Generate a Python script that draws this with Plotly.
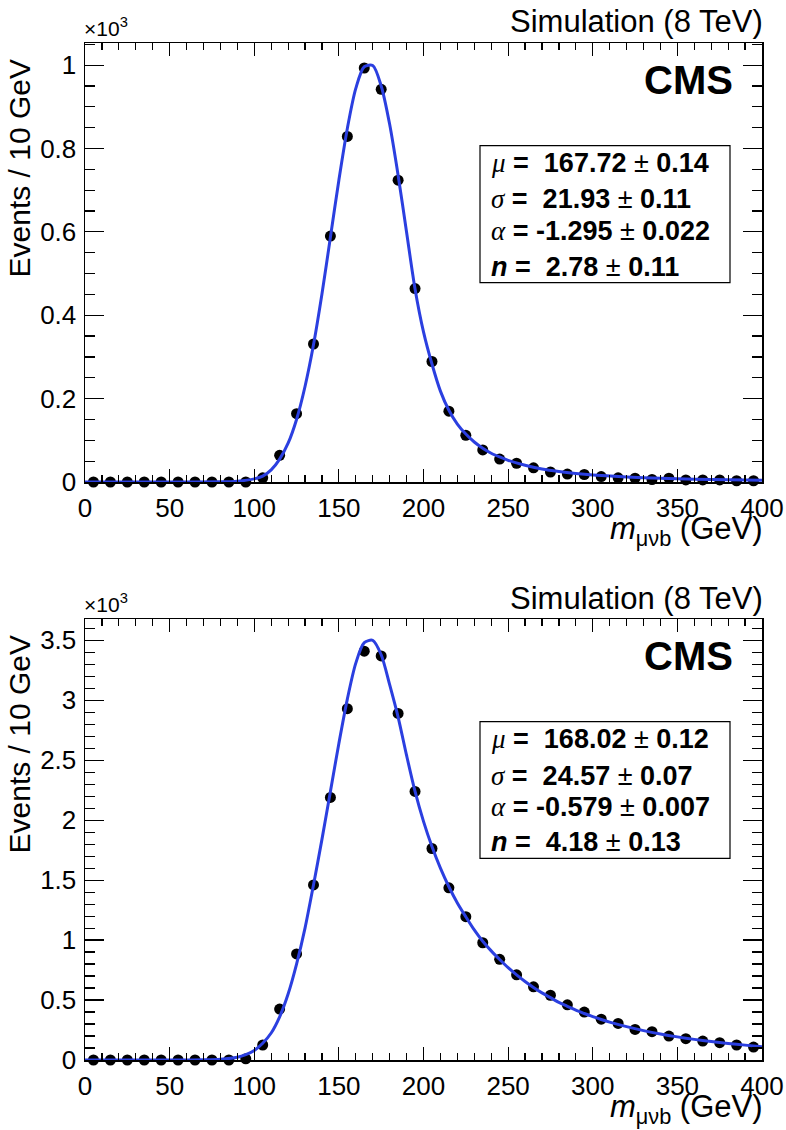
import plotly.graph_objects as go

# ---------------- data (values in units of 10^3 events) ----------------
bin_centers = [5, 15, 25, 35, 45, 55, 65, 75, 85, 95,
               105, 115, 125, 135, 145, 155, 165, 175, 185, 195,
               205, 215, 225, 235, 245, 255, 265, 275, 285, 295,
               305, 315, 325, 335, 345, 355, 365, 375, 385, 395]

top_counts = [0, 0, 0, 0, 0, 0, 0, 0, 0, 0,
              0.010, 0.064, 0.164, 0.331, 0.590, 0.829, 0.993, 0.942, 0.724, 0.464,
              0.289, 0.170, 0.112, 0.077, 0.055, 0.045, 0.034, 0.024, 0.019, 0.018,
              0.013, 0.010, 0.009, 0.006, 0.009, 0.005, 0.005, 0.005, 0.003, 0.003]

bottom_counts = [0, 0, 0, 0, 0, 0, 0, 0, 0, 0.010,
                 0.125, 0.425, 0.885, 1.46, 2.19, 2.93, 3.41, 3.37, 2.89, 2.24,
                 1.764, 1.436, 1.195, 0.978, 0.84, 0.71, 0.61, 0.54, 0.46, 0.40,
                 0.34, 0.305, 0.255, 0.236, 0.20, 0.178, 0.158, 0.144, 0.125, 0.108]

top_fit_x = [0, 40, 60, 80, 90, 100, 105, 110, 115, 120, 125, 130, 135, 140, 145,
             150, 155, 160, 165, 170, 175, 180, 185, 190, 195, 200, 205, 210, 215,
             220, 225, 230, 235, 240, 245, 250, 260, 270, 280, 290, 300, 320, 340,
             360, 380, 400]
top_fit_y = [0, 0, 0.00001, 0.0003, 0.002, 0.0075, 0.014, 0.029, 0.055, 0.093, 0.150,
             0.229, 0.329, 0.451, 0.587, 0.724, 0.848, 0.944, 0.996, 0.999, 0.950,
             0.858, 0.736, 0.599, 0.463, 0.360, 0.283, 0.218, 0.172, 0.139, 0.115,
             0.096, 0.081, 0.069, 0.060, 0.052, 0.040, 0.031, 0.025, 0.0205, 0.017,
             0.012, 0.0088, 0.0067, 0.0052, 0.0041]

bot_fit_x = [0, 40, 60, 70, 80, 90, 95, 100, 105, 110, 115, 120, 125, 130, 135, 140,
             145, 150, 155, 160, 165, 170, 175, 180, 185, 190, 195, 200, 205, 210,
             215, 220, 225, 230, 235, 240, 245, 250, 255, 260, 265, 270, 275, 280,
             285, 290, 295, 300, 305, 310, 320, 330, 340, 350, 360, 370, 380, 390, 400]
bot_fit_y = [0, 0, 0.0003, 0.0015, 0.006, 0.023, 0.045, 0.08, 0.14, 0.225, 0.36, 0.55,
             0.80, 1.10, 1.46, 1.84, 2.24, 2.64, 3.01, 3.31, 3.48, 3.50, 3.38, 3.13,
             2.86, 2.54, 2.24, 1.99, 1.78, 1.60, 1.445, 1.31, 1.195, 1.085, 0.99, 0.91,
             0.838, 0.77, 0.71, 0.655, 0.605, 0.56, 0.52, 0.48, 0.448, 0.415, 0.388,
             0.362, 0.338, 0.316, 0.278, 0.245, 0.217, 0.193, 0.172, 0.154, 0.138,
             0.124, 0.111]

top_params = [("μ", "167.72", "0.14"), ("σ", "21.93", "0.11"),
              ("α", "-1.295", "0.022"), ("n", "2.78", "0.11")]
bot_params = [("μ", "168.02", "0.12"), ("σ", "24.57", "0.07"),
              ("α", "-0.579", "0.007"), ("n", "4.18", "0.13")]

x_title = "<i>m</i><sub>μνb</sub> (GeV)"
y_title = "Events / 10 GeV"
energy_label = "Simulation (8 TeV)"
exp_label = "<b>CMS</b>"
scale_label = "×10<sup>3</sup>"

# ---------------- layout helpers ----------------
W, H = 786, 1130
BLUE = "#2b3fe0"
FONT = "Liberation Sans, Arial, Helvetica, sans-serif"


def px(x):
    return x / W


def py(y):
    return 1 - y / H


X0, X1 = 85, 762
panels = [
    dict(top=43, bottom=482, counts=top_counts, fx=top_fit_x, fy=top_fit_y,
         params=top_params, ymax=1.053, dtick=0.2, minor=0.05,
         box=(480, 145.7, 730, 282.7), rows=[162.7, 199, 231, 267.3]),
    dict(top=619, bottom=1060, counts=bottom_counts, fx=bot_fit_x, fy=bot_fit_y,
         params=bot_params, ymax=3.678, dtick=0.5, minor=0.1,
         box=(480, 721.7, 730, 858.3), rows=[739, 775.7, 807.5, 842.3]),
]

fig = go.Figure()
annotations = []
shapes = []

for i, p in enumerate(panels):
    sfx = "" if i == 0 else "2"
    xa, ya = "x" + sfx, "y" + sfx
    fig.add_trace(go.Scatter(x=bin_centers, y=p["counts"], mode="markers",
                             marker=dict(color="black", size=11),
                             xaxis=xa, yaxis=ya, cliponaxis=False, showlegend=False))
    fig.add_trace(go.Scatter(x=p["fx"], y=p["fy"], mode="lines",
                             line=dict(color=BLUE, width=3, shape="spline", smoothing=0.8),
                             xaxis=xa, yaxis=ya, showlegend=False))

    axis_common = dict(showline=True, linecolor="black", linewidth=1.5, mirror="allticks",
                       ticks="inside", tickcolor="black", tickwidth=1.2,
                       showgrid=False, zeroline=False, automargin=False,
                       tickfont=dict(family=FONT, size=26, color="black"))
    fig.update_layout(**{
        "xaxis" + sfx: dict(axis_common, domain=[px(X0), px(X1)], range=[0, 400],
                            anchor=ya, tick0=0, dtick=50, ticklen=13,
                            ticklabelstandoff=2,
                            minor=dict(ticks="inside", ticklen=7, dtick=10,
                                       tickcolor="black", tickwidth=1.2)),
        "yaxis" + sfx: dict(axis_common, domain=[py(p["bottom"]), py(p["top"])],
                            range=[0, p["ymax"]], anchor=xa, tick0=0, dtick=p["dtick"],
                            ticklen=19, ticklabelstandoff=2,
                            minor=dict(ticks="inside", ticklen=10, dtick=p["minor"],
                                       tickcolor="black", tickwidth=1.2)),
    })

    # texts
    annotations.append(dict(text=scale_label, x=px(X0 - 3), y=py(p["top"] - 1),
                            xref="paper", yref="paper", xanchor="left", yanchor="bottom",
                            showarrow=False, font=dict(family=FONT, size=21, color="black")))
    annotations.append(dict(text=energy_label, x=px(765), y=py(p["top"] - 21),
                            xref="paper", yref="paper", xanchor="right", yanchor="middle",
                            showarrow=False, font=dict(family=FONT, size=31, color="black")))
    annotations.append(dict(text=exp_label, x=px(735), y=py(p["top"] + 37),
                            xref="paper", yref="paper", xanchor="right", yanchor="middle",
                            showarrow=False, font=dict(family=FONT, size=40, color="black")))
    annotations.append(dict(text=y_title, x=px(0), y=py(p["top"] + 15), textangle=-90,
                            xref="paper", yref="paper", xanchor="left", yanchor="top",
                            showarrow=False, font=dict(family=FONT, size=30, color="black")))
    annotations.append(dict(text=x_title, x=px(765), y=py(p["bottom"] + 49),
                            xref="paper", yref="paper", xanchor="right", yanchor="middle",
                            showarrow=False, font=dict(family=FONT, size=31, color="black")))

    bx0, by0, bx1, by1 = p["box"]
    shapes.append(dict(type="rect", xref="paper", yref="paper",
                       x0=px(bx0), x1=px(bx1), y0=py(by1), y1=py(by0),
                       line=dict(color="black", width=1.2), fillcolor="white", layer="above"))
    for (sym, val, err), row in zip(p["params"], p["rows"]):
        if sym == "n":
            lab = "<b><i>n</i></b>"
        else:
            lab = "<span style=\"font-family:'Liberation Serif'\"><i>%s</i></span>" % sym
        gap = "\u00a0\u00a0" if not val.startswith("-") else "\u00a0"
        txt = "%s <b>=%s%s</b> ± <b>%s</b>" % (lab, gap, val, err)
        annotations.append(dict(text=txt, x=px(489), y=py(row), xref="paper", yref="paper",
                                xanchor="left", yanchor="middle", showarrow=False,
                                font=dict(family=FONT, size=27, color="black")))

fig.update_layout(width=W, height=H, autosize=False,
                  margin=dict(l=0, r=0, t=0, b=0, autoexpand=False),
                  paper_bgcolor="white", plot_bgcolor="white",
                  showlegend=False, annotations=annotations, shapes=shapes)

# remove the default 8px page margin so the figure sits at the page origin
fig.write_html("out.html",
               config={"displayModeBar": False, "staticPlot": True},
               post_script="document.body.style.margin='0px';"
                           "document.body.style.overflow='hidden';")
